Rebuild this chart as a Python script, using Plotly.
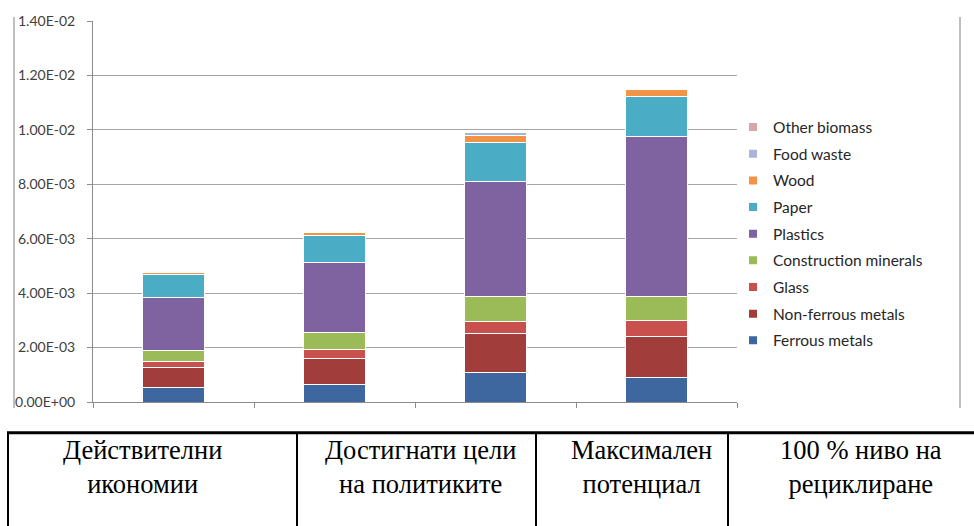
import plotly.graph_objects as go

# Scenario names (shown in the table under the chart)
scenarios = [
    "Действителни<br>икономии",
    "Достигнати цели<br>на политиките",
    "Максимален<br>потенциал",
    "100 % ниво на<br>рециклиране",
]

# Stacked material series, bottom to top
ferrous_metals = [0.00053, 0.00066, 0.00109, 0.00091]
non_ferrous_metals = [0.00073, 0.00095, 0.00144, 0.00150]
glass = [0.00024, 0.00033, 0.00043, 0.00059]
construction_minerals = [0.00038, 0.00062, 0.00093, 0.00086]
plastics = [0.00196, 0.00258, 0.00421, 0.00588]
paper = [0.00084, 0.00096, 0.00143, 0.00148]
wood = [0.00009, 0.00013, 0.00025, 0.00027]
food_waste = [0.0, 0.0, 0.00014, 0.0]
other_biomass = [0.0, 0.0, 0.00002, 0.0]

series_names = ["Ferrous metals", "Non-ferrous metals", "Glass", "Construction minerals",
                "Plastics", "Paper", "Wood", "Food waste", "Other biomass"]
series_values = [ferrous_metals, non_ferrous_metals, glass, construction_minerals,
                 plastics, paper, wood, food_waste, other_biomass]
series_colors = ["#3D679E", "#A13E3B", "#C8504D", "#9BBB59",
                 "#7F62A0", "#4BACC6", "#F39346", "#A9B4D8", "#D9A5AC"]

# Y axis ticks
y_tick_values = [0.0, 0.002, 0.004, 0.006, 0.008, 0.010, 0.012, 0.014]
y_tick_labels = ["0.00E+00", "2.00E-03", "4.00E-03", "6.00E-03",
                 "8.00E-03", "1.00E-02", "1.20E-02", "1.40E-02"]

W, H = 974, 526
L, R, T, B = 93, 737, 19, 402  # plot area in pixels


def px_x(px):
    return (px - L) / (R - L)


def px_y(py):
    return (B - py) / (B - T)


x_pos = list(range(len(scenarios)))

fig = go.Figure()
for name, vals, col in zip(series_names, series_values, series_colors):
    fig.add_trace(go.Bar(
        x=x_pos, y=vals, name=name, width=0.39,
        marker=dict(color=col, line=dict(color="white", width=1)),
        showlegend=False,
    ))

# legend swatches, top entry = top of the stack
for name, col in reversed(list(zip(series_names, series_colors))):
    fig.add_trace(go.Scatter(
        x=[None], y=[None], mode="markers", name=name, legendgroup=name,
        marker=dict(symbol="square", size=8, color=col),
    ))

shapes = []
# chart frame sides
for fx in (14, 960):
    shapes.append(dict(type="line", xref="paper", yref="paper",
                       x0=px_x(fx), x1=px_x(fx), y0=px_y(15), y1=px_y(408),
                       line=dict(color="#BFBFBF", width=2)))
# table under the chart
shapes.append(dict(type="line", xref="paper", yref="paper",
                   x0=px_x(7), x1=px_x(980), y0=px_y(433), y1=px_y(433),
                   line=dict(color="black", width=3)))
for vx in (8, 297, 536, 728):
    shapes.append(dict(type="line", xref="paper", yref="paper",
                       x0=px_x(vx), x1=px_x(vx), y0=px_y(433), y1=px_y(530),
                       line=dict(color="black", width=2)))

annotations = []
for label, cx in zip(scenarios, (142, 420, 641, 861)):
    annotations.append(dict(
        text=label, xref="paper", yref="paper", x=px_x(cx), y=px_y(433),
        xanchor="center", yanchor="top", showarrow=False, align="center",
        font=dict(family="Liberation Serif", size=26.5, color="black"),
    ))

fig.update_layout(
    width=W, height=H,
    margin=dict(l=L, r=W - R, t=T, b=H - B, pad=0),
    barmode="stack",
    plot_bgcolor="white", paper_bgcolor="white",
    font=dict(family="Lato", color="#404040"),
    shapes=shapes, annotations=annotations,
    legend=dict(
        x=px_x(733), y=px_y(109), xanchor="left", yanchor="top",
        traceorder="grouped", tracegroupgap=3.5,
        font=dict(family="Lato", size=15.5, color="#262626"),
        itemwidth=30, bgcolor="rgba(0,0,0,0)",
    ),
    showlegend=True,
)
fig.update_xaxes(
    range=[-0.5, len(scenarios) - 0.5], showgrid=False, zeroline=False,
    showline=True, linecolor="#8C8C8C", linewidth=1,
    tickvals=[i - 0.5 for i in range(len(scenarios) + 1)],
    ticks="outside", ticklen=5, tickcolor="#8C8C8C", showticklabels=False,
)
fig.update_yaxes(
    range=[0, 0.014], tickvals=y_tick_values, ticktext=y_tick_labels,
    showgrid=True, gridcolor="#A6A6A6", gridwidth=1, zeroline=False,
    showline=True, linecolor="#8C8C8C", linewidth=1,
    ticks="outside", ticklen=5, tickcolor="#8C8C8C",
    tickfont=dict(family="Lato", size=14, color="#404040"),
    ticklabelstandoff=9,
)

fig.write_html("out.html")
